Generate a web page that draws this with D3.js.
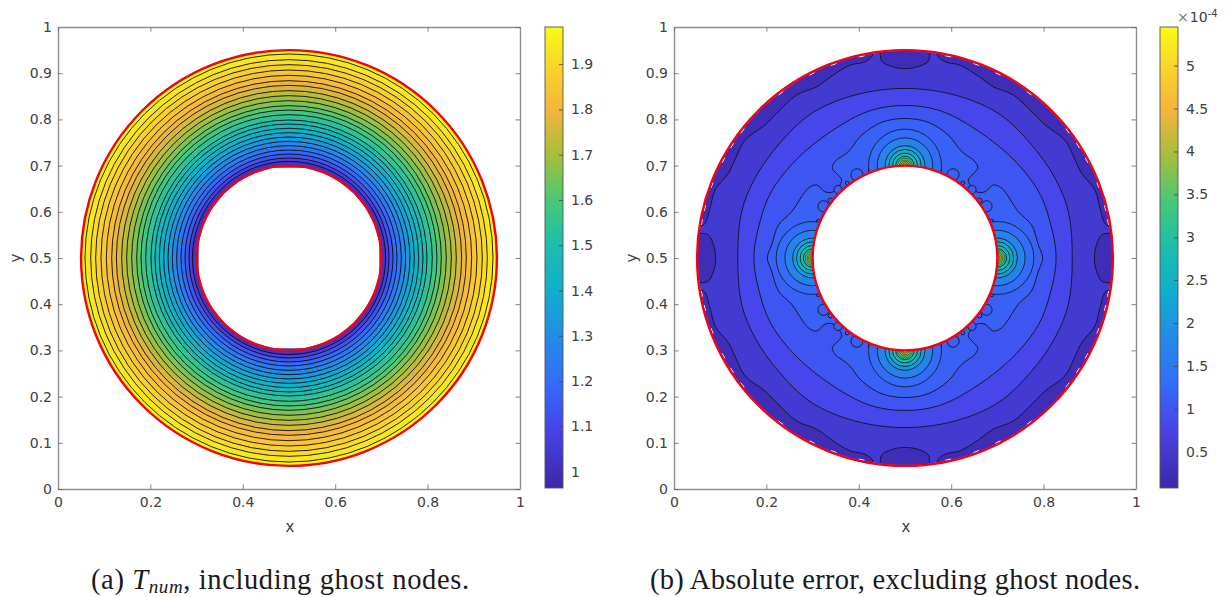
<!DOCTYPE html>
<html>
<head>
<meta charset="utf-8">
<script src="https://cdn.jsdelivr.net/npm/d3@7"></script>
<style>
  body { margin: 0; background: #fff; }
  text { font-family: "DejaVu Sans", sans-serif; }
  .tick text, .label { fill: #404040; font-size: 14px; }
  .caption { font-family: "Liberation Serif", serif; font-size: 28.5px; fill: #1a1a1a; }
</style>
</head>
<body>
<div id="chart"></div>
<script>
// axis ticks
var axisTicks = [0, 0.2, 0.4, 0.6, 0.8, 1];
var axisTicksY = [0, 0.1, 0.2, 0.3, 0.4, 0.5, 0.6, 0.7, 0.8, 0.9, 1];
var barTicksLeft = [1, 1.1, 1.2, 1.3, 1.4, 1.5, 1.6, 1.7, 1.8, 1.9];
var barTicksRight = [0.5, 1, 1.5, 2, 2.5, 3, 3.5, 4, 4.5, 5];
var barRangeLeft = [0.964, 1.982];
var barRangeRight = [0.078, 5.45];

// colormap stops (fraction, colour)
var mapStops = [0, 0.134, 0.232, 0.33, 0.43, 0.53, 0.62, 0.72, 0.82, 0.92, 1];
var mapColors = ["#3e26a8", "#4646eb", "#326efa", "#238ce6", "#0fafcd", "#1ebeaa", "#46c878", "#a5be3c", "#f5b43c", "#fad728", "#f9fb15"];

// left panel: radius of each contour circle and the value of the band inside it
var ringRadius = [0.4416, 0.4293, 0.4185, 0.4069, 0.3954, 0.3838, 0.3737, 0.3622, 0.3514, 0.3405, 0.3297, 0.3203, 0.3102,
    0.2987, 0.29, 0.2807, 0.2713, 0.2619, 0.2525, 0.2432, 0.2338, 0.2251, 0.2165, 0.2092];
var ringValue = [1.94, 1.91, 1.88, 1.85, 1.82, 1.79, 1.76, 1.725, 1.69, 1.655, 1.617, 1.58, 1.54,
    1.5, 1.463, 1.423, 1.38, 1.335, 1.29, 1.24, 1.19, 1.135, 1.08, 1.02];
var ringOuterValue = 1.97;
// nodes of the inner edge on the left panel (ghost node chords, first quadrant)
var holeAngle = [10, 22, 32, 45, 58, 68, 80];
var holeRadius = [0.1985, 0.1985, 0.1985, 0.1985, 0.1985, 0.1985, 0.1985];

// right panel: contours read in one quadrant (degrees from east, radius), mirrored to the others
var c1Angle = [9.3, 14.3, 19.7, 25.6, 30, 36.4, 43.5, 48.4, 56.4, 62.7, 68.6, 74.1, 78.5, 81];
var c1Radius = [0.442, 0.4356, 0.4367, 0.424, 0.425, 0.43, 0.418, 0.4186, 0.4236, 0.417, 0.4254, 0.434, 0.4337, 0.445];
var blobAngle = [-6.9, -6.7, -3.4, 0, 3.4, 6.7, 6.9];
var blobRadius = [0.4469, 0.4285, 0.414, 0.41, 0.414, 0.4285, 0.4469];
var c2Angle = [0, 15.8, 28, 41.7, 57, 73, 90];
var c2Radius = [0.362, 0.3675, 0.3677, 0.3675, 0.3725, 0.369, 0.367];
var c3Angle = [0, 14, 26.4, 43, 63, 77.3, 90];
var c3Radius = [0.327, 0.3235, 0.323, 0.317, 0.3187, 0.328, 0.33];
var c4Angle = [0, 5.6, 14.6, 22.2, 35.8, 39.6, 39.6, 42.8, 50.9, 51, 51, 54, 62, 70.6, 80.3, 90];
var c4Radius = [0.298, 0.29, 0.283, 0.265, 0.258, 0.248, 0.225, 0.211, 0.217, 0.235, 0.25, 0.2577, 0.261, 0.282, 0.298, 0.302];

// small lobes along the inner circle (angle, radius, size)
var lobeAngle = [17, 23, 32.4, 37.7, 45.6, 52.4, 60, 68.5, 74.7];
var lobeRadius = [0.205, 0.204, 0.209, 0.204, 0.207, 0.205, 0.208, 0.205, 0.204];
var lobeSize = [0.004, 0.004, 0.012, 0.005, 0.009, 0.004, 0.013, 0.004, 0.005];

// contours around the four hot spots
var hotRadius = [0.079, 0.06, 0.043, 0.035, 0.027, 0.02, 0.016, 0.012, 0.009, 0.006, 0.004];
var hotValue = [1.3, 1.7, 2.1, 2.4, 2.8, 3.1, 3.4, 3.7, 4.1, 4.5, 5];
var hotCenterAngle = [0, 90, 180, 270];

// band values of the right panel
var bandDark = 0.24, bandBase = 0.52, bandC2 = 0.8, bandC3 = 1.0, bandC4 = 1.15;

// white gaps between the fill and the outer red circle (degrees, one quadrant)
var gapAngle = [10, 14, 20.7, 28.3, 33, 38, 53, 63.2, 69.8, 77.9];

var width = 1229, height = 597;
var svg = d3.select("#chart").append("svg").attr("width", width).attr("height", height)
    .style("display", "block");
var defs = svg.append("defs");

var frac = mapStops;
var parula = d3.scaleLinear().domain(frac).range(mapColors).clamp(true);

var y = d3.scaleLinear().domain([0, 1]).range([489, 27]);
var xLeft = d3.scaleLinear().domain([0, 1]).range([58, 520]);
var xRight = d3.scaleLinear().domain([0, 1]).range([674, 1136]);
var colorLeft = d3.scaleLinear().domain(barRangeLeft).range([0, 1]);
var colorRight = d3.scaleLinear().domain(barRangeRight).range([0, 1]);
var quadrants = [[0, 1], [180, -1], [180, 1], [360, -1]];

function polar(angle, r) {
    var a = angle * Math.PI / 180;
    return [0.5 + r * Math.cos(a), 0.5 + r * Math.sin(a)];
}

// repeat a quadrant profile round the circle by mirroring; the end points sit on the axes
function mirrored(angles, radii) {
    var pts = [];
    angles.forEach(function (a, i) { pts.push([a, radii[i]]); });
    for (var i = angles.length - 2; i > 0; i--) pts.push([180 - angles[i], radii[i]]);
    for (i = 0; i < angles.length - 1; i++) pts.push([180 + angles[i], radii[i]]);
    for (i = angles.length - 1; i > 0; i--) pts.push([360 - angles[i], radii[i]]);
    return pts;
}

function drawAxes(g, x) {
    var bottom = g.append("g").attr("transform", "translate(0,489)")
        .call(d3.axisBottom(x).tickValues(axisTicks).tickFormat(d3.format("~g")).tickSizeInner(-4.6).tickSizeOuter(0).tickPadding(8));
    var left = g.append("g").attr("transform", "translate(" + x(0) + ",0)")
        .call(d3.axisLeft(y).tickValues(axisTicksY).tickFormat(d3.format("~g")).tickSizeInner(-4.6).tickSizeOuter(0).tickPadding(6));
    var top = g.append("g").attr("transform", "translate(0,27)")
        .call(d3.axisTop(x).tickValues(axisTicks).tickFormat("").tickSizeInner(-4.6).tickSizeOuter(0));
    var right = g.append("g").attr("transform", "translate(" + x(1) + ",0)")
        .call(d3.axisRight(y).tickValues(axisTicksY).tickFormat("").tickSizeInner(-4.6).tickSizeOuter(0));
    [bottom, left, top, right].forEach(function (a) {
        a.attr("font-family", null).attr("font-size", null);
        a.select(".domain").attr("stroke", "#8f8f8f").attr("stroke-width", 1.4);
        a.selectAll(".tick line").attr("stroke", "#666").attr("stroke-width", 0.8);
    });
    g.append("text").attr("class", "label").attr("x", (x(0) + x(1)) / 2 + 1).attr("y", 532)
        .attr("text-anchor", "middle").style("font-size", "15px").text("x");
    g.append("text").attr("class", "label").attr("text-anchor", "middle").style("font-size", "15px")
        .attr("transform", "translate(" + (x(0) - 37) + ",258) rotate(-90)").text("y");
}

function drawColorbar(g, id, left, barDomain, ticks) {
    var scale = d3.scaleLinear().domain(barDomain).range([488, 27]);
    var grad = defs.append("linearGradient").attr("id", id)
        .attr("x1", 0).attr("x2", 0).attr("y1", 1).attr("y2", 0);
    frac.forEach(function (f, i) {
        grad.append("stop").attr("offset", f).attr("stop-color", mapColors[i]);
    });
    g.append("rect").attr("x", left).attr("y", 27).attr("width", 18).attr("height", 461)
        .attr("fill", "url(#" + id + ")").attr("stroke", "#555").attr("stroke-width", 0.9);
    var axis = g.append("g").attr("transform", "translate(" + (left + 18) + ",0)")
        .call(d3.axisRight(scale).tickValues(ticks).tickFormat(d3.format("~g")).tickSizeInner(-4).tickSizeOuter(0).tickPadding(8));
    axis.attr("font-family", null).attr("font-size", null);
    axis.select(".domain").remove();
    axis.selectAll(".tick line").attr("stroke", "#444").attr("stroke-width", 0.8);
}

// ---- left panel
var gl = svg.append("g");

gl.append("circle").attr("cx", xLeft(0.5)).attr("cy", y(0.5))
    .attr("r", xLeft(0.45) - xLeft(0))
    .attr("fill", parula(colorLeft(ringOuterValue)));
gl.selectAll(".ring").data(ringRadius).enter().append("circle")
    .attr("class", "ring")
    .attr("cx", xLeft(0.5)).attr("cy", y(0.5))
    .attr("r", function (d) { return xLeft(d) - xLeft(0); })
    .attr("fill", function (d, i) { return parula(colorLeft(ringValue[i])); })
    .attr("stroke", "#0c0c14").attr("stroke-width", 0.9);

// the hole is a polygon through the nodes, mirrored round
var hole = [];
quadrants.forEach(function (q) {
    var nodes = holeAngle.map(function (a, i) { return polar(q[0] + q[1] * a, holeRadius[i]); });
    hole = hole.concat(q[1] < 0 ? nodes.reverse() : nodes);
});
gl.append("path")
    .attr("d", d3.line().x(function (d) { return xLeft(d[0]); }).y(function (d) { return y(d[1]); }).curve(d3.curveLinearClosed)(hole))
    .attr("fill", "#fff");
drawAxes(gl, xLeft);
[0.2, 0.45].forEach(function (r) {
    gl.append("circle").attr("cx", xLeft(0.5)).attr("cy", y(0.5)).attr("r", xLeft(r) - xLeft(0))
        .attr("fill", "none").attr("stroke", "#f5000f").attr("stroke-width", 2.4);
});
drawColorbar(gl, "barLeft", 545, barRangeLeft, barTicksLeft);

// ---- right panel
var gr = svg.append("g");
var valueColor = function (v) { return parula(colorRight(v)); };
var line = d3.line().x(function (d) { return xRight(d[0]); }).y(function (d) { return y(d[1]); });
var contourStroke = "#14141e";

defs.append("clipPath").attr("id", "fieldClip").append("circle")
    .attr("cx", xRight(0.5)).attr("cy", y(0.5)).attr("r", xRight(0.448) - xRight(0));

var field = gr.append("g").attr("clip-path", "url(#fieldClip)");
field.append("circle").attr("cx", xRight(0.5)).attr("cy", y(0.5)).attr("r", xRight(0.46) - xRight(0))
    .attr("fill", valueColor(bandBase));

// dark patches in each quadrant, closed outside the clip
quadrants.forEach(function (q) {
    var pts = c1Angle.map(function (a, i) { return polar(q[0] + q[1] * a, c1Radius[i]); });
    var first = polar(q[0] + q[1] * c1Angle[0], 0.47);
    var last = polar(q[0] + q[1] * c1Angle[c1Angle.length - 1], 0.47);
    var far = polar(q[0] + q[1] * 45, 0.7);
    var open = [first].concat(pts).concat([last]);
    field.append("path")
        .attr("d", line.curve(d3.curveCatmullRom)(open) + "L" + xRight(far[0]) + "," + y(far[1]) + "Z")
        .attr("fill", valueColor(bandDark)).attr("stroke", contourStroke).attr("stroke-width", 0.9);
});
// dark blobs on the axes
hotCenterAngle.forEach(function (c) {
    var pts = blobAngle.map(function (a, i) { return polar(c + a, blobRadius[i]); });
    var open = [polar(c + blobAngle[0], 0.47)].concat(pts).concat([polar(c + blobAngle[blobAngle.length - 1], 0.47)]);
    var far = polar(c, 0.7);
    field.append("path")
        .attr("d", line.curve(d3.curveCatmullRom)(open) + "L" + xRight(far[0]) + "," + y(far[1]) + "Z")
        .attr("fill", valueColor(bandDark)).attr("stroke", contourStroke).attr("stroke-width", 0.9);
});

// the closed contours, outermost first
[[c2Angle, c2Radius, bandC2], [c3Angle, c3Radius, bandC3], [c4Angle, c4Radius, bandC4]].forEach(function (c) {
    var pts = mirrored(c[0], c[1]).map(function (p) { return polar(p[0], p[1]); });
    field.append("path")
        .attr("d", line.curve(d3.curveCatmullRomClosed)(pts))
        .attr("fill", valueColor(c[2])).attr("stroke", contourStroke).attr("stroke-width", 0.9);
});

// lobes by the inner circle
quadrants.forEach(function (q) {
    lobeAngle.forEach(function (a, i) {
        var p = polar(q[0] + q[1] * a, lobeRadius[i]);
        field.append("circle").attr("cx", xRight(p[0])).attr("cy", y(p[1]))
            .attr("r", xRight(lobeSize[i]) - xRight(0))
            .attr("fill", valueColor(bandC4)).attr("stroke", contourStroke).attr("stroke-width", 0.9);
    });
});

// hot spots on the inner circle, lines get thinner towards the middle
hotCenterAngle.forEach(function (c) {
    var p = polar(c, 0.2);
    hotRadius.forEach(function (r, i) {
        field.append("circle").attr("cx", xRight(p[0])).attr("cy", y(p[1]))
            .attr("r", xRight(r) - xRight(0))
            .attr("fill", valueColor(hotValue[i])).attr("stroke", contourStroke)
            .attr("stroke-width", i < 6 ? 0.8 : 0.5);
    });
});

// white hole and gaps
field.append("circle").attr("cx", xRight(0.5)).attr("cy", y(0.5)).attr("r", xRight(0.2) - xRight(0)).attr("fill", "#fff");
quadrants.forEach(function (q) {
    gapAngle.forEach(function (a) {
        var p0 = polar(q[0] + q[1] * (a - 0.8), 0.4465);
        var p1 = polar(q[0] + q[1] * (a + 0.8), 0.4465);
        gr.append("line").attr("x1", xRight(p0[0])).attr("y1", y(p0[1]))
            .attr("x2", xRight(p1[0])).attr("y2", y(p1[1]))
            .attr("stroke", "#fff").attr("stroke-width", 1);
    });
});

drawAxes(gr, xRight);
[0.2, 0.45].forEach(function (r) {
    gr.append("circle").attr("cx", xRight(0.5)).attr("cy", y(0.5)).attr("r", xRight(r) - xRight(0))
        .attr("fill", "none").attr("stroke", "#f5000f").attr("stroke-width", 2.4);
});
drawColorbar(gr, "barRight", 1160, barRangeRight, barTicksRight);

// exponent above the right colour bar
var expo = gr.append("text").attr("x", 1177).attr("y", 22).style("font-size", "14px").attr("fill", "#404040");
expo.append("tspan").attr("fill", "#777").text("\u00d7");
expo.append("tspan").attr("dx", 1).text("10");
expo.append("tspan").attr("dy", -5).style("font-size", "10px").text("-4");

// captions
var capA = svg.append("text").attr("class", "caption").attr("x", 91).attr("y", 589)
    .attr("textLength", 378).attr("lengthAdjust", "spacing");
capA.append("tspan").text("(a) ");
capA.append("tspan").attr("font-style", "italic").text("T");
capA.append("tspan").attr("font-style", "italic").attr("dy", 4).style("font-size", "19px").text("num");
capA.append("tspan").attr("dy", -4).text(", including ghost nodes.");
svg.append("text").attr("class", "caption").attr("x", 650).attr("y", 589)
    .attr("textLength", 490).attr("lengthAdjust", "spacing")
    .text("(b) Absolute error, excluding ghost nodes.");
</script>
</body>
</html>
